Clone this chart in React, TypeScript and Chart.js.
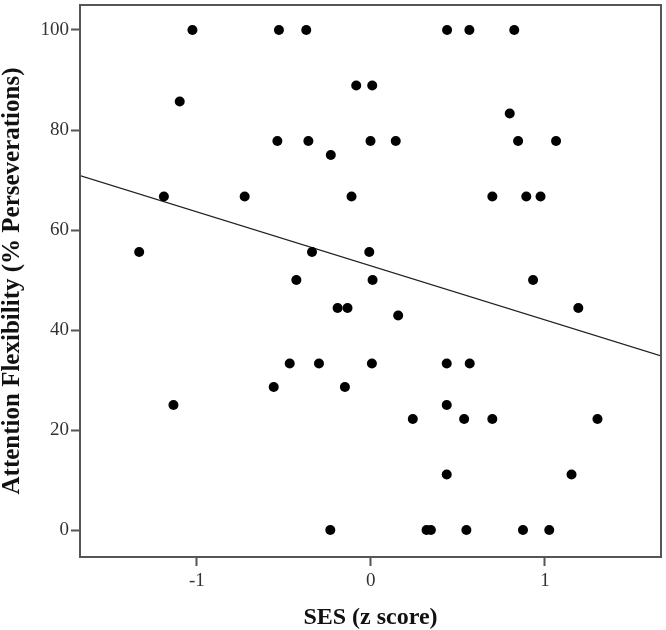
import React, { useEffect, useRef } from "react";
import { Chart, registerables } from "chart.js";

Chart.register(...registerables);

// SES (z score) for each participant
const SES_X: number[] = [
  -1.025, -0.528, -0.371, 0.438, 0.566, 0.824,
  -1.098, -0.084, 0.008, 0.798,
  -0.537, -0.359, -0.002, 0.143, 0.846, 1.064,
  -0.23,
  -1.189, -0.725, -0.111, 0.698, 0.893, 0.975,
  -1.331, -0.338, -0.009,
  -0.428, 0.01, 0.932,
  -0.191, -0.134, 1.192,
  0.157,
  -0.466, -0.298, 0.006, 0.436, 0.568,
  -0.558, -0.149,
  -1.134, 0.436,
  0.241, 0.536, 0.698, 1.302,
  0.436, 1.153,
  -0.233, 0.32, 0.345, 0.549, 0.874, 1.025,
];

// Attention Flexibility (% Perseverations)
const ATTN_Y: number[] = [
  100, 100, 100, 100, 100, 100,
  85.7, 88.9, 88.9, 83.3,
  77.8, 77.8, 77.8, 77.8, 77.8, 77.8,
  75,
  66.7, 66.7, 66.7, 66.7, 66.7, 66.7,
  55.6, 55.6, 55.6,
  50, 50, 50,
  44.4, 44.4, 44.4,
  42.9,
  33.3, 33.3, 33.3, 33.3, 33.3,
  28.6, 28.6,
  25, 25,
  22.2, 22.2, 22.2, 22.2,
  11.1, 11.1,
  0, 0, 0, 0, 0, 0,
];

// Fitted regression line end points (x, y)
const FIT_X: number[] = [-1.671, 1.667];
const FIT_Y: number[] = [70.9, 34.8];

const X_TICKS: number[] = [-1, 0, 1];
const Y_TICKS: number[] = [0, 20, 40, 60, 80, 100];
const X_RANGE: number[] = [-1.671, 1.667];
const Y_RANGE: number[] = [-5.4, 105.0];

const X_TITLE = "SES (z score)";
const Y_TITLE = "Attention Flexibility (% Perseverations)";

const framePlugin = {
  id: "frame",
  afterDatasetsDraw(chart: any) {
    const { ctx, chartArea } = chart;
    ctx.save();
    ctx.strokeStyle = "#555";
    ctx.lineWidth = 2;
    ctx.strokeRect(chartArea.left, chartArea.top, chartArea.right - chartArea.left, chartArea.bottom - chartArea.top);
    ctx.restore();
  },
};

export default function App() {
  const ref = useRef<HTMLCanvasElement | null>(null);

  useEffect(() => {
    if (!ref.current) return;
    const points = SES_X.map((x, i) => ({ x, y: ATTN_Y[i] }));
    const fit = FIT_X.map((x, i) => ({ x, y: FIT_Y[i] }));
    const serif = "'Liberation Serif', 'Times New Roman', serif";
    const tickFont = { family: serif, size: 19 };

    const chart = new Chart(ref.current, {
      type: "scatter",
      data: {
        datasets: [
          {
            type: "scatter",
            data: points,
            backgroundColor: "#000",
            borderColor: "#000",
            pointRadius: 5,
            pointHoverRadius: 5,
            borderWidth: 0,
          },
          {
            type: "line",
            data: fit,
            borderColor: "#222",
            borderWidth: 1.2,
            pointRadius: 0,
            fill: false,
            tension: 0,
          } as any,
        ],
      },
      options: {
        animation: false,
        responsive: false,
        maintainAspectRatio: false,
        layout: { padding: { top: 0, right: 3, left: 0, bottom: 0 } },
        plugins: {
          legend: { display: false },
          tooltip: { enabled: false },
        },
        scales: {
          x: {
            type: "linear",
            min: X_RANGE[0],
            max: X_RANGE[1],
            afterBuildTicks: (s: any) => {
              s.ticks = X_TICKS.map((v) => ({ value: v }));
            },
            afterFit: (s: any) => {
              s.height = 73;
              s.paddingLeft = 0;
              s.paddingRight = 0;
            },
            grid: {
              drawOnChartArea: false,
              drawTicks: true,
              tickLength: 9,
              tickColor: "#555",
              tickWidth: 2,
              color: "#555",
            },
            border: { display: true, color: "#555", width: 2 },
            ticks: {
              font: tickFont,
              color: "#333",
              padding: 4,
              maxRotation: 0,
              callback: (v: any) => String(v),
            },
            title: {
              display: true,
              text: X_TITLE,
              font: { family: serif, size: 24, weight: "bold", lineHeight: 1 },
              color: "#111",
              padding: { top: 0, bottom: 0 },
            },
          },
          y: {
            type: "linear",
            min: Y_RANGE[0],
            max: Y_RANGE[1],
            afterBuildTicks: (s: any) => {
              s.ticks = Y_TICKS.map((v) => ({ value: v }));
            },
            afterFit: (s: any) => {
              s.width = 80;
              s.paddingTop = 0;
              s.paddingBottom = 0;
            },
            grid: {
              drawOnChartArea: false,
              drawTicks: true,
              tickLength: 9,
              tickColor: "#555",
              tickWidth: 2,
              color: "#555",
            },
            border: { display: true, color: "#555", width: 2 },
            ticks: {
              font: tickFont,
              color: "#333",
              padding: 2,
              callback: (v: any) => String(v),
            },
            title: {
              display: true,
              text: Y_TITLE,
              font: { family: serif, size: 25, weight: "bold", lineHeight: 1 },
              color: "#111",
              padding: { top: 0, bottom: 0 },
            },
          },
        },
      },
      plugins: [framePlugin],
    });
    return () => chart.destroy();
  }, []);

  return (
    <div style={{ position: "fixed", left: 0, top: 0, width: 666, height: 630, background: "#fff" }}>
      <canvas ref={ref} width={666} height={630} style={{ width: 666, height: 630, display: "block" }} />
    </div>
  );
}
